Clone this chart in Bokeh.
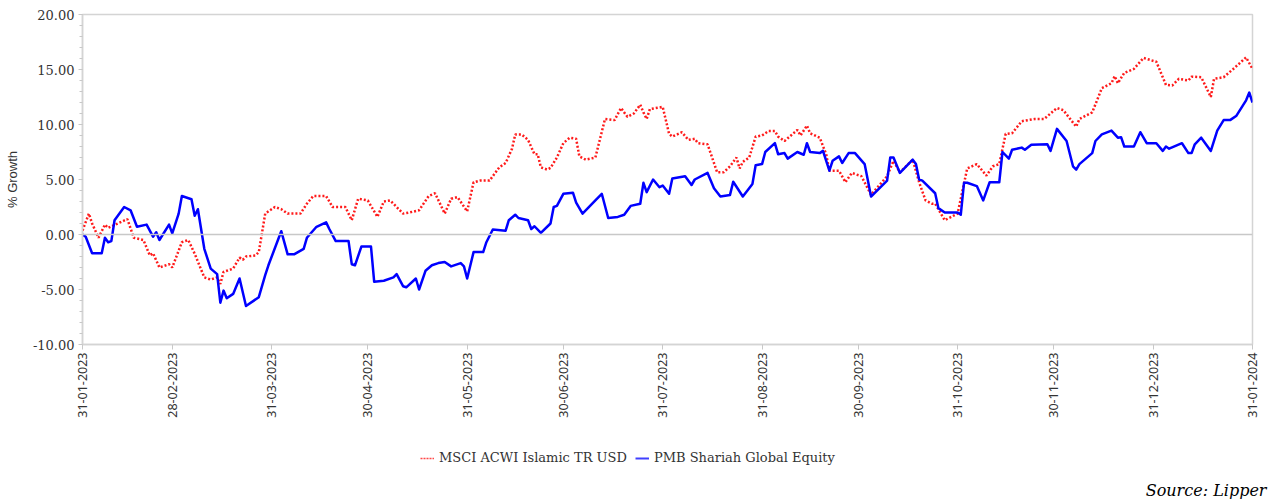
import pandas as pd
from math import pi
from bokeh.plotting import figure
from bokeh.layouts import column
from bokeh.models import (Range1d, FixedTicker, NumeralTickFormatter, Span,
                          Legend, LegendItem, Label)
from bokeh.embed import file_html
from bokeh.resources import INLINE

start_date = "2023-01-31"
x_tick_labels = ["31-01-2023", "28-02-2023", "31-03-2023", "30-04-2023", "31-05-2023",
                 "30-06-2023", "31-07-2023", "31-08-2023", "30-09-2023", "31-10-2023",
                 "30-11-2023", "31-12-2023", "31-01-2024"]
y_ticks = [-10, -5, 0, 5, 10, 15, 20]
y_minor = list(range(-10, 21))

series_names = ["MSCI ACWI Islamic TR USD", "PMB Shariah Global Equity"]
source_text = "Source: Lipper"

# days since start_date
msci_days = [0, 2, 3, 5, 7, 8, 11, 14, 16, 19, 21, 22, 24, 27, 28, 31, 33, 35, 38, 40, 42, 43, 44,
             47, 49, 50, 51, 54, 55, 57, 60, 62, 64, 68, 70, 72, 76, 78, 82, 84, 86, 89, 92, 94,
             96, 100, 102, 105, 108, 110, 113, 115, 117, 120, 122, 124, 127, 130, 132, 134, 135,
             137, 139, 141, 142, 143, 145, 146, 148, 150, 152, 154, 155, 157, 160, 163, 166, 168,
             169, 170, 172, 174, 175, 176, 177, 181, 183, 184, 187, 189, 191, 192, 195, 198, 200,
             202, 204, 205, 206, 208, 210, 212, 214, 216, 217, 219, 223, 224, 226, 227, 230, 232,
             233, 236, 238, 240, 243, 246, 251, 253, 255, 259, 261, 263, 265, 266, 269, 273, 276,
             279, 282, 284, 286, 288, 290, 293, 297, 300, 304, 306, 310, 311, 315, 318, 321, 322,
             323, 325, 328, 331, 335, 338, 340, 342, 345, 346, 349, 352, 353, 356, 359, 363, 365]
msci_values = [0.35, 1.9, 1.0, -0.3, 0.9, 0.6, 1.0, 1.4, -0.3, -0.5, -1.9, -1.7, -3.0, -2.7, -3.0,
               -0.7, -0.5, -1.75, -3.9, -4.1, -3.9, -4.5, -3.4, -3.1, -2.1, -2.3, -2.0, -1.9,
               -1.6, 1.9, 2.5, 2.3, 1.9, 1.9, 2.8, 3.5, 3.5, 2.5, 2.5, 1.3, 3.25, 3.1, 1.6, 3.0,
               3.1, 1.9, 2.0, 2.2, 3.5, 3.75, 1.9, 3.25, 3.4, 2.1, 4.75, 4.9, 4.9, 6.1, 6.5, 7.8,
               9.1, 9.1, 8.6, 7.3, 7.3, 6.1, 5.9, 6.05, 7.0, 8.3, 8.8, 8.7, 7.1, 6.8, 7.0, 10.5,
               10.4, 11.5, 11.1, 10.7, 11.0, 11.8, 11.1, 10.5, 11.4, 11.6, 9.15, 8.9, 9.3, 8.6,
               8.7, 8.3, 8.2, 5.65, 5.65, 6.2, 7.0, 6.0, 6.6, 7.0, 8.9, 9.0, 9.4, 9.4, 8.9, 8.5,
               9.5, 9.0, 9.9, 9.2, 8.8, 7.3, 5.8, 5.8, 4.75, 5.6, 5.3, 3.6, 5.3, 6.7, 5.65, 6.8,
               4.75, 3.1, 2.8, 2.8, 1.3, 1.9, 6.0, 6.4, 5.35, 6.2, 6.4, 9.15, 9.2, 10.3, 10.5,
               10.5, 11.5, 11.3, 9.8, 10.5, 11.1, 13.3, 13.75, 14.4, 13.75, 14.7, 15.05, 16.05,
               15.7, 13.6, 13.55, 14.15, 14.0, 14.35, 14.3, 12.5, 14.15, 14.3, 15.05, 16.1, 15.05]

pmb_days = [0, 1, 3, 6, 7, 8, 9, 10, 13, 15, 17, 20, 22, 23, 24, 27, 28, 30, 31, 34, 35, 36, 38,
            40, 42, 43, 44, 45, 47, 49, 51, 55, 57, 58, 62, 64, 66, 69, 70, 73, 76, 77, 79, 83,
            84, 85, 87, 90, 91, 94, 97, 98, 100, 101, 104, 105, 107, 109, 111, 113, 115, 118,
            119, 120, 122, 125, 126, 128, 132, 133, 135, 136, 139, 140, 141, 143, 146, 147, 148,
            150, 153, 154, 156, 160, 162, 164, 167, 169, 171, 174, 175, 176, 178, 180, 181, 183,
            184, 188, 190, 191, 195, 197, 199, 202, 203, 206, 209, 210, 212, 213, 216, 217, 219,
            220, 223, 225, 226, 227, 230, 231, 233, 234, 236, 237, 239, 241, 244, 246, 251, 252,
            253, 255, 259, 260, 261, 262, 266, 267, 269, 273, 274, 275, 276, 279, 281, 283, 286,
            287, 289, 290, 293, 294, 296, 301, 302, 304, 307, 309, 310, 311, 315, 316, 318, 321,
            323, 324, 325, 328, 330, 332, 335, 337, 338, 339, 343, 345, 346, 347, 349, 352, 354,
            356, 358, 360, 363, 364, 365]
pmb_values = [0.0, -0.2, -1.7, -1.7, -0.3, -0.7, -0.6, 1.3, 2.5, 2.2, 0.7, 0.9, -0.2, 0.2, -0.5,
              0.9, 0.1, 1.9, 3.5, 3.2, 1.7, 2.3, -1.3, -3.1, -3.6, -6.2, -5.1, -5.8, -5.4, -4.0,
              -6.5, -5.7, -3.7, -2.8, 0.3, -1.8, -1.8, -1.3, -0.3, 0.7, 1.1, 0.5, -0.6, -0.6,
              -2.7, -2.8, -1.1, -1.1, -4.3, -4.2, -3.9, -3.6, -4.7, -4.8, -4.0, -5.0, -3.3, -2.8,
              -2.6, -2.5, -2.9, -2.6, -2.9, -4.0, -1.6, -1.6, -0.7, 0.45, 0.35, 1.3, 1.8, 1.5,
              1.3, 0.5, 0.75, 0.15, 1.0, 2.5, 2.6, 3.7, 3.8, 2.9, 1.9, 3.1, 3.7, 1.5, 1.6, 1.8,
              2.6, 2.8, 4.7, 3.85, 5.0, 4.3, 4.45, 3.7, 5.1, 5.3, 4.5, 5.0, 5.6, 4.2, 3.45, 3.6,
              4.8, 3.45, 4.6, 6.3, 6.4, 7.5, 8.3, 7.3, 7.4, 6.9, 7.5, 7.25, 8.3, 7.5, 7.4, 7.6,
              5.8, 6.7, 7.1, 6.5, 7.4, 7.4, 6.4, 3.45, 4.9, 7.0, 7.0, 5.6, 6.8, 6.4, 5.0, 4.9,
              3.75, 2.4, 2.0, 2.0, 1.8, 4.7, 4.7, 4.4, 3.1, 4.75, 4.75, 7.5, 6.9, 7.7, 7.9, 7.7,
              8.15, 8.2, 7.6, 9.6, 8.5, 6.2, 5.9, 6.4, 7.4, 8.5, 9.1, 9.45, 8.8, 8.85, 8.0, 8.0,
              9.3, 8.3, 8.3, 7.6, 8.0, 7.8, 8.3, 7.4, 7.4, 8.2, 8.8, 7.6, 9.45, 10.4, 10.4, 10.8,
              12.2, 12.9, 12.0]

t0 = pd.Timestamp(start_date)
x_tick_pos = [(pd.to_datetime(s, format="%d-%m-%Y") - t0).days for s in x_tick_labels]

RED = "#ff1a1a"
BLUE = "#0000ff"

# ---------------- main chart ----------------
p = figure(width=1269, height=430, output_backend="svg", toolbar_location=None,
           x_range=Range1d(x_tick_pos[0], x_tick_pos[-1]), y_range=Range1d(y_ticks[0], y_ticks[-1]),
           min_border_left=82, min_border_top=14, min_border_right=17, min_border_bottom=86)
p.frame_align = False
p.background_fill_color = "white"
p.border_fill_color = "white"
p.outline_line_color = "#d4d4d4"
p.outline_line_width = 1.5
p.xgrid.visible = False
p.ygrid.visible = False

p.add_layout(Span(location=0, dimension="width", line_color="#c8c8c8", line_width=1.5))

r_msci = p.line(msci_days, msci_values, line_color=RED, line_width=2.5, line_dash="2 2")
r_pmb = p.line(pmb_days, pmb_values, line_color=BLUE, line_width=2.5, line_join="round")

yax = p.yaxis[0]
yax.ticker = FixedTicker(ticks=y_ticks, minor_ticks=y_minor)
yax.formatter = NumeralTickFormatter(format="0.00")
yax.axis_label = "% Growth"
yax.axis_label_text_font = "Liberation Sans"
yax.axis_label_text_font_style = "normal"
yax.axis_label_text_font_size = "13px"
yax.axis_label_text_color = "#333333"
yax.axis_label_standoff = 10
yax.major_label_text_font = "DejaVu Serif"
yax.major_label_text_font_size = "13px"
yax.major_label_text_color = "#333333"
yax.major_label_standoff = 4
yax.axis_line_color = "#d4d4d4"
yax.axis_line_width = 1.5
yax.major_tick_line_color = "#c8c8c8"
yax.minor_tick_line_color = "#c8c8c8"
yax.major_tick_in = 0
yax.major_tick_out = 4
yax.minor_tick_in = 0
yax.minor_tick_out = 3

xax = p.xaxis[0]
xax.ticker = FixedTicker(ticks=x_tick_pos, minor_ticks=[])
xax.major_label_overrides = {pos: lab for pos, lab in zip(x_tick_pos, x_tick_labels)}
xax.major_label_orientation = pi / 2
xax.major_label_text_font = "Noto Sans"
xax.major_label_text_font_size = "12.5px"
xax.major_label_text_color = "#333333"
xax.major_label_standoff = 3
xax.axis_line_color = "#d4d4d4"
xax.axis_line_width = 1.5
xax.major_tick_line_color = "#c8c8c8"
xax.major_tick_in = 0
xax.major_tick_out = 5
xax.minor_tick_line_color = None

# ---------------- legend + source strip ----------------
# the series are drawn here outside the visible range, only to feed the legend glyphs
q = figure(width=1269, height=69, output_backend="svg", toolbar_location=None,
           x_range=Range1d(-20, -10), y_range=Range1d(-30, -20),
           x_axis_location=None, y_axis_location=None,
           min_border_left=0, min_border_right=0, min_border_top=0, min_border_bottom=0)
q.frame_align = False
q.outline_line_color = None
q.xgrid.visible = False
q.ygrid.visible = False
q.background_fill_color = "white"
q.border_fill_color = "white"

lg_msci = q.line(msci_days, msci_values, line_color=RED, line_width=1.5, line_alpha=0.8,
                 line_dash="2 1")
lg_pmb = q.line(pmb_days, pmb_values, line_color=BLUE, line_width=2, line_alpha=0.75)

legend = Legend(items=[LegendItem(label=series_names[0], renderers=[lg_msci]),
                       LegendItem(label=series_names[1], renderers=[lg_pmb])],
                orientation="horizontal", location=(420, 34))
legend.label_text_font = "DejaVu Serif"
legend.label_text_font_size = "13px"
legend.label_text_color = "#333333"
legend.glyph_width = 14
legend.glyph_height = 14
legend.label_standoff = 5
legend.spacing = 8
legend.padding = 0
legend.margin = 0
legend.border_line_color = None
legend.background_fill_alpha = 0
q.add_layout(legend, "center")

src = Label(x=1266, y=9, x_units="screen", y_units="screen", text=source_text,
            text_align="right", text_baseline="alphabetic",
            text_font="DejaVu Serif", text_font_style="italic", text_font_size="16px",
            text_color="#000000")
q.add_layout(src)

layout = column(p, q, spacing=0)
open("out.html", "w").write(file_html(layout, INLINE))
